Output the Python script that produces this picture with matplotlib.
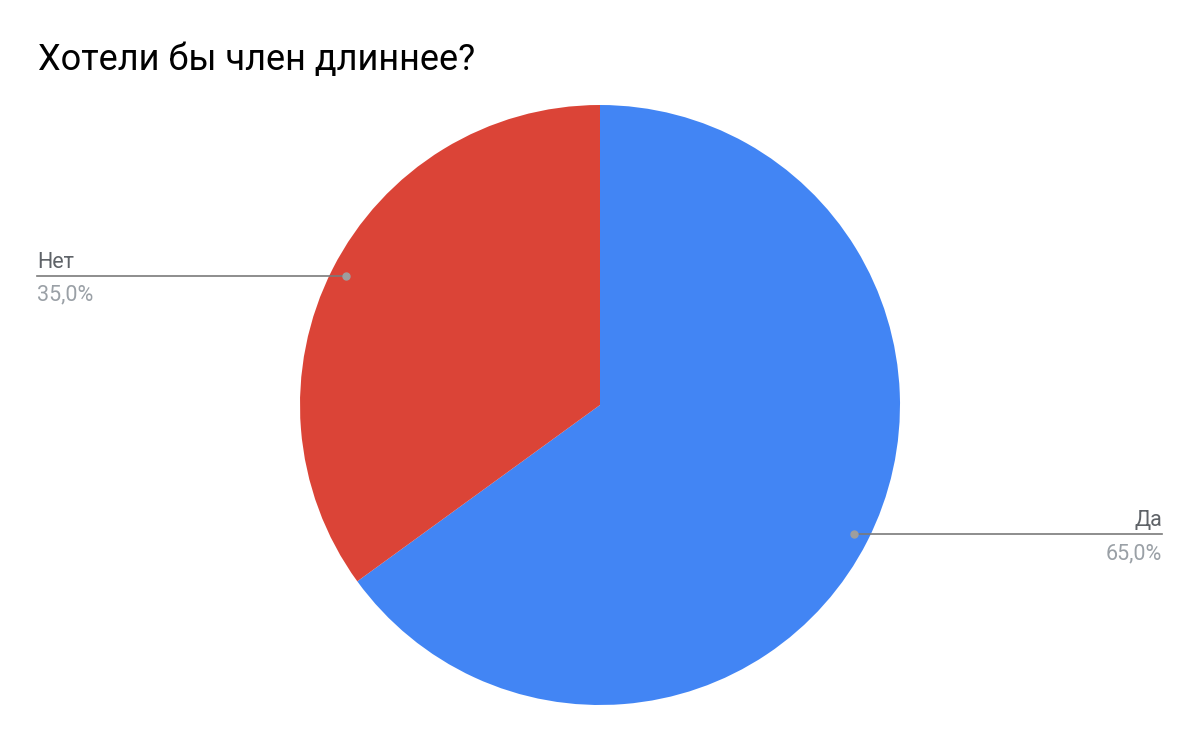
import numpy as np
import matplotlib.pyplot as plt

plt.rcParams['font.family'] = ['Roboto', 'DejaVu Sans']

title = "Хотели бы член длиннее?"
labels = ['Да', 'Нет']
values = [65.0, 35.0]
colors = ['#4285F4', '#DB4437']

W, H = 1200, 742
fig = plt.figure(figsize=(W / 100, H / 100), dpi=100)
ax = fig.add_axes([0, 0, 1, 1])

center = (600, H - 405)
radius = 300
wedges, _ = ax.pie(values, colors=colors, startangle=90, counterclock=False,
                   center=center, radius=radius, frame=True,
                   wedgeprops=dict(linewidth=0))
ax.set_xlim(0, W)
ax.set_ylim(0, H)
ax.axis('off')

ax.text(38, H - 70, title, fontsize=26, color='#000000', va='baseline', ha='left')

total = sum(values)
for w, lab, val in zip(wedges, labels, values):
    mid = np.deg2rad((w.theta1 + w.theta2) / 2)
    px = center[0] + 0.95 * radius * np.cos(mid)
    py = center[1] + 0.95 * radius * np.sin(mid)
    pct = f"{val / total * 100:.1f}%".replace('.', ',')
    if np.cos(mid) < 0:
        xend, ha = 37, 'left'
    else:
        xend, ha = 1162, 'right'
    ax.plot([px, xend], [py, py], color='#7a7a7a', lw=1.2, zorder=3)
    ax.plot([px], [py], 'o', color='#9e9e9e', markersize=5, zorder=4)
    ax.text(xend, py + 8, lab, fontsize=15.5, color='#5f6368', ha=ha, va='baseline')
    ax.text(xend, py - 25, pct, fontsize=15.5, color='#9aa0a6', ha=ha, va='baseline')

fig.savefig('out.png', dpi=100, facecolor='white')
